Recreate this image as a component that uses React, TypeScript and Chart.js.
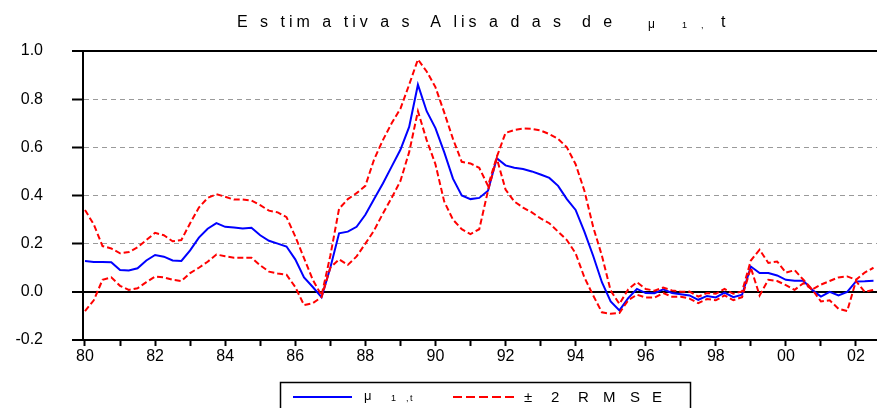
import React, { useEffect, useRef } from "react";
import { Chart, registerables } from "chart.js";

Chart.register(...registerables);

// ---------------- DATA ----------------
const START_YEAR = 1980; // first quarter 1980Q1, quarterly observations

const MU = [
  0.128, 0.124, 0.124, 0.123, 0.091, 0.089, 0.098, 0.13, 0.153, 0.146,
  0.13, 0.128, 0.172, 0.225, 0.262, 0.285, 0.27, 0.267, 0.263, 0.266,
  0.235, 0.212, 0.2, 0.188, 0.135, 0.06, 0.02, -0.022, 0.1, 0.243,
  0.25, 0.27, 0.32, 0.385, 0.45, 0.52, 0.59, 0.685, 0.86, 0.75,
  0.68, 0.58, 0.47, 0.4, 0.385, 0.39, 0.42, 0.555, 0.525, 0.515,
  0.51, 0.5, 0.487, 0.473, 0.44, 0.385, 0.34, 0.25, 0.15, 0.04,
  -0.04, -0.077, -0.026, 0.012, -0.005, -0.006, 0.01, -0.005, -0.01, -0.015,
  -0.033, -0.017, -0.023, -0.003, -0.022, -0.012, 0.105, 0.078, 0.078, 0.068,
  0.05, 0.046, 0.046, 0.008, -0.02, 0.0, -0.015, 0.0, 0.043, 0.044,
  0.046,
];

const UPPER = [
  0.34, 0.28, 0.19, 0.18, 0.16, 0.165, 0.185, 0.215, 0.245, 0.235,
  0.21, 0.215, 0.285, 0.35, 0.39, 0.405, 0.395, 0.383, 0.383, 0.379,
  0.36, 0.337, 0.33, 0.31, 0.23, 0.14, 0.05, -0.015, 0.15, 0.345,
  0.385, 0.41, 0.44, 0.55, 0.63, 0.7, 0.76, 0.86, 0.965, 0.915,
  0.85, 0.745, 0.635, 0.54, 0.533, 0.515, 0.44, 0.56, 0.66, 0.672,
  0.678, 0.677, 0.67, 0.655, 0.635, 0.6, 0.53, 0.42, 0.27, 0.15,
  0.005, -0.05, 0.01, 0.04, 0.012, 0.005, 0.018, 0.006, 0.0, 0.001,
  -0.02, -0.005, -0.008, 0.012, -0.008, 0.002, 0.13, 0.175, 0.12, 0.126,
  0.08, 0.09, 0.05, 0.01, 0.03, 0.045, 0.06, 0.064, 0.05, 0.08,
  0.1,
];

const LOWER = [
  -0.08, -0.035, 0.05, 0.06, 0.025, 0.008, 0.015, 0.04, 0.063, 0.06,
  0.05, 0.045, 0.078, 0.1, 0.125, 0.155, 0.148, 0.142, 0.142, 0.142,
  0.11, 0.084, 0.076, 0.071, 0.02, -0.055, -0.047, -0.022, 0.1, 0.135,
  0.112, 0.147, 0.2, 0.255, 0.325, 0.39, 0.46, 0.58, 0.75, 0.63,
  0.53, 0.375, 0.3, 0.26, 0.24, 0.26, 0.42, 0.555, 0.425, 0.375,
  0.35, 0.33, 0.305, 0.285, 0.25, 0.215, 0.16, 0.06, -0.015, -0.085,
  -0.091, -0.088, -0.035, -0.012, -0.024, -0.024, -0.005, -0.02, -0.02, -0.028,
  -0.047, -0.03, -0.035, -0.015, -0.035, -0.022, 0.1, -0.015, 0.05, 0.045,
  0.028, 0.008, 0.036, 0.01, -0.04, -0.035, -0.07, -0.08, 0.045, 0.0,
  0.008,
];

const YEAR_TICKS = [
  1980, 1981, 1982, 1983, 1984, 1985, 1986, 1987, 1988, 1989, 1990, 1991,
  1992, 1993, 1994, 1995, 1996, 1997, 1998, 1999, 2000, 2001, 2002,
];
const YEAR_LABELS = [
  "80", "", "82", "", "84", "", "86", "", "88", "", "90", "",
  "92", "", "94", "", "96", "", "98", "", "00", "", "02",
];
const Y_TICKS = [-0.2, 0.0, 0.2, 0.4, 0.6, 0.8, 1.0];
const DASHED_GRID = [0.2, 0.4, 0.6, 0.8];

const TITLE_MAIN = "E s tim a tiv a s  A lis a d a s  d e";
const TITLE_SYMBOL = "μ";
const SUB_INDEX = "1";
const SUB_TIME = "t";
const LEGEND_BAND = ["±", "2", "R", "M", "S", "E"];

const FONT = '"Liberation Sans", Arial, Helvetica, sans-serif';
const BLUE = "#0000FF";
const RED = "#FF0000";

const isDashed = (v: number) =>
  DASHED_GRID.some((g) => Math.abs(g - v) < 1e-6);

// --------------- decorations (title + legend) ---------------
const decorPlugin = {
  id: "decor",
  afterDraw(chart: any) {
    const ctx = chart.ctx as any;
    ctx.save();
    ctx.fillStyle = "#000";
    ctx.textAlign = "left";
    ctx.textBaseline = "alphabetic";

    // Title (spaced lettering as in the reference)
    ctx.font = `16px ${FONT}`;
    ctx.letterSpacing = "4px";
    ctx.fillText(TITLE_MAIN, 237, 27);
    ctx.letterSpacing = "0px";
    ctx.font = `12px ${FONT}`;
    ctx.fillText(TITLE_SYMBOL, 648, 28);
    ctx.font = `9px ${FONT}`;
    ctx.fillText(SUB_INDEX, 682, 28);
    ctx.fillText(",", 701, 28);
    ctx.font = `16px ${FONT}`;
    ctx.fillText(SUB_TIME, 721, 27);

    // Legend box
    ctx.strokeStyle = "#000";
    ctx.lineWidth = 1.5;
    ctx.setLineDash([]);
    ctx.strokeRect(280.5, 382.5, 410, 30);

    // blue sample
    ctx.strokeStyle = BLUE;
    ctx.lineWidth = 2;
    ctx.beginPath();
    ctx.moveTo(293, 397);
    ctx.lineTo(352, 397);
    ctx.stroke();
    ctx.fillStyle = "#000";
    ctx.font = `13px ${FONT}`;
    ctx.fillText(TITLE_SYMBOL, 364, 400);
    ctx.font = `9px ${FONT}`;
    ctx.fillText(SUB_INDEX, 391, 401);
    ctx.fillText(",", 406, 401);
    ctx.fillText(SUB_TIME, 410, 401);

    // red sample
    ctx.strokeStyle = RED;
    ctx.lineWidth = 2;
    ctx.setLineDash([9, 4]);
    ctx.beginPath();
    ctx.moveTo(453, 397);
    ctx.lineTo(514, 397);
    ctx.stroke();
    ctx.setLineDash([]);
    ctx.font = `15px ${FONT}`;
    const bandX = [524, 551, 578, 603, 630, 652];
    LEGEND_BAND.forEach((s, i) => ctx.fillText(s, bandX[i], 402));

    ctx.restore();
  },
};

export default function App() {
  const canvasRef = useRef<HTMLCanvasElement | null>(null);

  useEffect(() => {
    document.body.style.margin = "0";
    const canvas = canvasRef.current;
    if (!canvas) return;

    const toPoints = (arr: number[]) =>
      arr.map((y, i) => ({ x: START_YEAR + i / 4, y }));

    const chart = new Chart(canvas, {
      type: "line",
      data: {
        datasets: [
          {
            label: "upper",
            data: toPoints(UPPER),
            borderColor: RED,
            borderWidth: 2,
            borderDash: [6, 3],
            pointRadius: 0,
            tension: 0,
            fill: false,
          },
          {
            label: "lower",
            data: toPoints(LOWER),
            borderColor: RED,
            borderWidth: 2,
            borderDash: [6, 3],
            pointRadius: 0,
            tension: 0,
            fill: false,
          },
          {
            label: "mu",
            data: toPoints(MU),
            borderColor: BLUE,
            borderWidth: 2,
            pointRadius: 0,
            tension: 0,
            fill: false,
          },
        ],
      },
      options: {
        responsive: false,
        animation: false,
        events: [],
        layout: { padding: { top: 51, left: 0, right: 0, bottom: 0 } },
        plugins: {
          legend: { display: false },
          title: { display: false },
          tooltip: { enabled: false },
        },
        scales: {
          x: {
            type: "linear",
            min: 1979.943,
            max: 2002.6,
            afterBuildTicks: (s: any) => {
              s.ticks = YEAR_TICKS.map((v) => ({ value: v }));
            },
            afterFit: (s: any) => {
              s.height = 68;
            },
            grid: {
              drawOnChartArea: false,
              drawTicks: true,
              tickLength: 6,
              tickWidth: 2,
              tickColor: "#000",
            },
            border: { display: true, color: "#000", width: 2 },
            ticks: {
              autoSkip: false,
              maxRotation: 0,
              padding: 1,
              color: "#000",
              font: { family: FONT, size: 16 },
              callback: (v: any) => {
                const i = YEAR_TICKS.indexOf(Number(v));
                return i >= 0 ? YEAR_LABELS[i] : "";
              },
            },
          },
          y: {
            type: "linear",
            min: -0.2,
            max: 1.0,
            afterBuildTicks: (s: any) => {
              s.ticks = Y_TICKS.map((v) => ({ value: v }));
            },
            afterFit: (s: any) => {
              s.width = 83;
            },
            grid: {
              drawTicks: true,
              tickLength: 11,
              tickWidth: 2,
              tickColor: "#000",
              tickBorderDash: [],
              color: (c: any) =>
                c.tick && isDashed(c.tick.value) ? "#9a9a9a" : "#000",
              lineWidth: (c: any) =>
                c.tick && isDashed(c.tick.value) ? 1 : 2,
            },
            border: {
              display: true,
              color: "#000",
              width: 2,
              dash: (c: any) =>
                c.tick && isDashed(c.tick.value) ? [5, 4] : [],
            },
            ticks: {
              padding: 29,
              color: "#000",
              font: { family: FONT, size: 16 },
              callback: (v: any) => Number(v).toFixed(1),
            },
          },
        },
      } as any,
      plugins: [decorPlugin],
    });

    return () => {
      chart.destroy();
    };
  }, []);

  return (
    <div style={{ width: 877, height: 408, overflow: "hidden", background: "#fff" }}>
      <canvas ref={canvasRef} width={877} height={408} style={{ display: "block" }} />
    </div>
  );
}
